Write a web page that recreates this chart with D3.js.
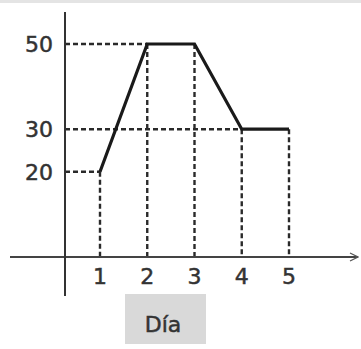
<!DOCTYPE html>
<html>
<head>
<meta charset="utf-8">
<script src="https://cdn.jsdelivr.net/npm/d3@7"></script>
<style>
  body { margin: 0; background: #fff; }
  svg { display: block; }
  text { font-family: "DejaVu Sans", sans-serif; fill: #333; stroke: #333; stroke-width: 0.5px; }
</style>
</head>
<body>
<script>
// data
const days = [1, 2, 3, 4, 5];
const values = [20, 50, 50, 30, 30];
const yTicks = [20, 30, 50];
const xLabel = "Día";

const width = 361;
const height = 349;
const originX = 65;
const axisTop = 12;
const axisBottom = 296;

const svg = d3.select("body")
  .append("svg")
  .attr("width", width)
  .attr("height", height);

// thin grey strip along the top edge
svg.append("rect")
  .attr("x", 0).attr("y", 0)
  .attr("width", width).attr("height", 3)
  .attr("fill", "#e4e4e4");

const xScale = d3.scaleLinear()
  .domain([1, 5])
  .range([100, 289]);

const yScale = d3.scaleLinear()
  .domain([0, 50])
  .range([257, 44]);

const points = days.map(function(d, i) {
  return { day: d, value: values[i] };
});

// arrow head for the x axis
svg.append("defs")
  .append("marker")
  .attr("id", "arrow")
  .attr("viewBox", "0 0 10 10")
  .attr("refX", 9).attr("refY", 5)
  .attr("markerWidth", 5).attr("markerHeight", 5)
  .attr("orient", "auto")
  .append("path")
  .attr("d", "M1,1 L9,5 L1,9")
  .attr("fill", "none")
  .attr("stroke", "#555")
  .attr("stroke-width", 1.2);

// horizontal guides from the y axis to the first point at that value
svg.append("g")
  .selectAll("line")
  .data(yTicks)
  .enter()
  .append("line")
  .attr("x1", originX)
  .attr("x2", function(t) {
    const p = points.find(function(p) { return p.value === t; });
    return xScale(p.day);
  })
  .attr("y1", function(t) { return yScale(t); })
  .attr("y2", function(t) { return yScale(t); })
  .attr("stroke", "#2a2a2a")
  .attr("stroke-width", 2.4)
  .attr("stroke-dasharray", "5,3");

// vertical guides down to the x axis
svg.append("g")
  .selectAll("line")
  .data(points)
  .enter()
  .append("line")
  .attr("x1", function(d) { return xScale(d.day); })
  .attr("x2", function(d) { return xScale(d.day); })
  .attr("y1", function(d) { return yScale(d.value); })
  .attr("y2", yScale(0))
  .attr("stroke", "#2a2a2a")
  .attr("stroke-width", 2.4)
  .attr("stroke-dasharray", "5,3");

// axes
svg.append("line")
  .attr("x1", 10).attr("x2", 358)
  .attr("y1", yScale(0)).attr("y2", yScale(0))
  .attr("stroke", "#444")
  .attr("stroke-width", 2)
  .attr("marker-end", "url(#arrow)");

svg.append("line")
  .attr("x1", originX).attr("x2", originX)
  .attr("y1", axisTop).attr("y2", axisBottom)
  .attr("stroke", "#333")
  .attr("stroke-width", 2);

// the data line
const line = d3.line()
  .x(function(d) { return xScale(d.day); })
  .y(function(d) { return yScale(d.value); });

svg.append("path")
  .datum(points)
  .attr("d", line)
  .attr("fill", "none")
  .attr("stroke", "#1a1a1a")
  .attr("stroke-width", 3.2)
  .attr("stroke-linejoin", "miter");

// tick labels
svg.append("g")
  .selectAll("text")
  .data(yTicks)
  .enter()
  .append("text")
  .attr("x", 53)
  .attr("y", function(t) { return yScale(t); })
  .attr("dy", "0.36em")
  .attr("text-anchor", "end")
  .attr("font-size", 22)
  .text(function(t) { return t; });

svg.append("g")
  .selectAll("text")
  .data(days)
  .enter()
  .append("text")
  .attr("x", function(d) { return xScale(d); })
  .attr("y", 284)
  .attr("text-anchor", "middle")
  .attr("font-size", 22)
  .text(function(d) { return d; });

// axis title in a grey box
svg.append("rect")
  .attr("x", 125).attr("y", 294)
  .attr("width", 81).attr("height", 50)
  .attr("fill", "#d9d9d9");

svg.append("text")
  .attr("x", 163)
  .attr("y", 332)
  .attr("text-anchor", "middle")
  .attr("font-size", 22)
  .text(xLabel);
</script>
</body>
</html>
